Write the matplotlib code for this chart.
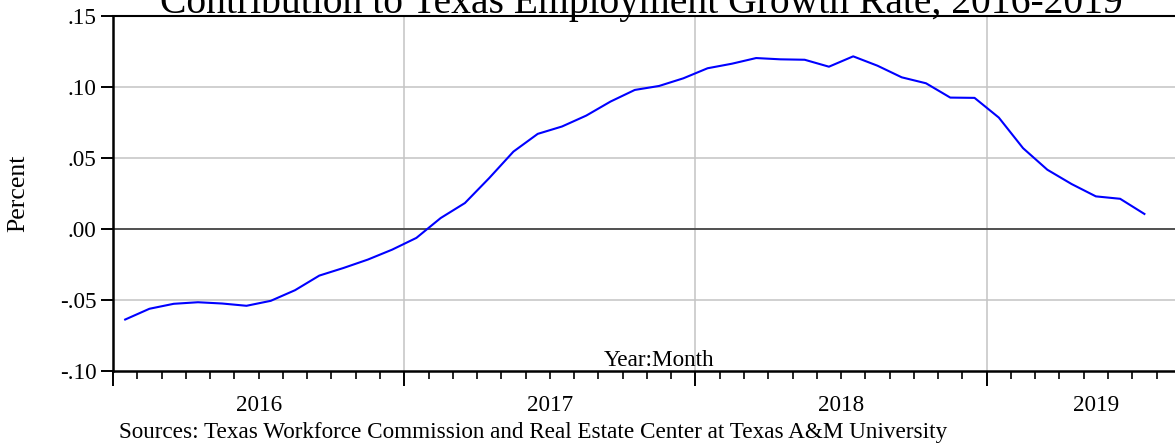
import matplotlib
matplotlib.use('Agg')
from matplotlib import pyplot as plt
from matplotlib.ticker import FixedLocator, FuncFormatter
import numpy as np

# monthly series, Jan 2016 - Jul 2019
start_year = 2016
years = [2016, 2017, 2018, 2019]
contribution = [
    -0.0639, -0.0563, -0.0528, -0.0517, -0.0526, -0.0542,
    -0.0507, -0.0432, -0.0329, -0.0275, -0.0216, -0.0146,
    -0.0063, 0.0077, 0.0183, 0.0359, 0.0546, 0.0671,
    0.0723, 0.0800, 0.0899, 0.0981, 0.1009, 0.1063,
    0.1134, 0.1166, 0.1206, 0.1197, 0.1194, 0.1145,
    0.1218, 0.1152, 0.1070, 0.1028, 0.0927, 0.0925,
    0.0786, 0.0570, 0.0418, 0.0317, 0.0230, 0.0213,
    0.0106,
]
y_ticks = [-0.10, -0.05, 0.00, 0.05, 0.10, 0.15]

serif = 'Liberation Serif'
plt.rcParams['font.family'] = serif

fig = plt.figure(figsize=(11.75, 4.44), dpi=100)
ax = fig.add_axes([0.0962, 0.1651, 0.9294, 0.798])

# months counted from Jan 2016, points sit in the middle of each month
n_months = 45
months = np.arange(len(contribution)) + 0.5

ax.set_xlim(0, n_months)
ax.set_ylim(-0.10, 0.15)

year_starts = [(y - start_year) * 12 for y in years]
ax.xaxis.set_major_locator(FixedLocator(year_starts))
ax.xaxis.set_minor_locator(FixedLocator(np.arange(0, n_months + 1)))
ax.set_xticklabels([])
ax.tick_params(axis='x', which='major', length=11, width=1.4, direction='out', color='black')
ax.tick_params(axis='x', which='minor', length=6, width=1.2, direction='out', color='black')

ax.yaxis.set_major_locator(FixedLocator(y_ticks))
ax.yaxis.set_major_formatter(FuncFormatter(lambda v, p: ('%.2f' % v).replace('0.', '.', 1)))
ax.tick_params(axis='y', length=9, width=1.4, direction='out', labelsize=16.7, pad=3)

# grid
for ys in year_starts[1:]:
    ax.axvline(ys, color='#c4c4c4', lw=1.1, zorder=1)
for yv in [-0.05, 0.05, 0.10]:
    ax.axhline(yv, color='#c4c4c4', lw=1.1, zorder=1)
ax.axhline(0, color='#505050', lw=1.4, zorder=1)

ax.plot(months, contribution, color='#0000ff', lw=1.5, zorder=3)

for side in ['left', 'bottom']:
    ax.spines[side].set_linewidth(1.8)
ax.spines['top'].set_linewidth(1.5)
ax.spines['right'].set_visible(False)

# year labels centred under the visible part of each year
trans = ax.get_xaxis_transform()
for i, y in enumerate(years):
    lo = year_starts[i]
    hi = min(lo + 12, n_months)
    ax.text((lo + hi) / 2, -0.097, str(y), transform=trans, ha='center', va='center', fontsize=16.7)

ax.text(0.5, 0.0, 'Year:Month', transform=ax.transAxes, ha='center', va='bottom', fontsize=16.7)

ax.set_ylabel('Percent', fontsize=18.5)
ax.yaxis.set_label_coords(-0.0765, 0.5)

fig.text(0.546, 0.9707, 'Contribution to Texas Employment Growth Rate, 2016-2019',
         ha='center', va='baseline', fontsize=28.5)
fig.text(0.101, 0.025, 'Sources: Texas Workforce Commission and Real Estate Center at Texas A&M University',
         ha='left', va='center', fontsize=16.7)

plt.savefig('out.png', dpi=100)
